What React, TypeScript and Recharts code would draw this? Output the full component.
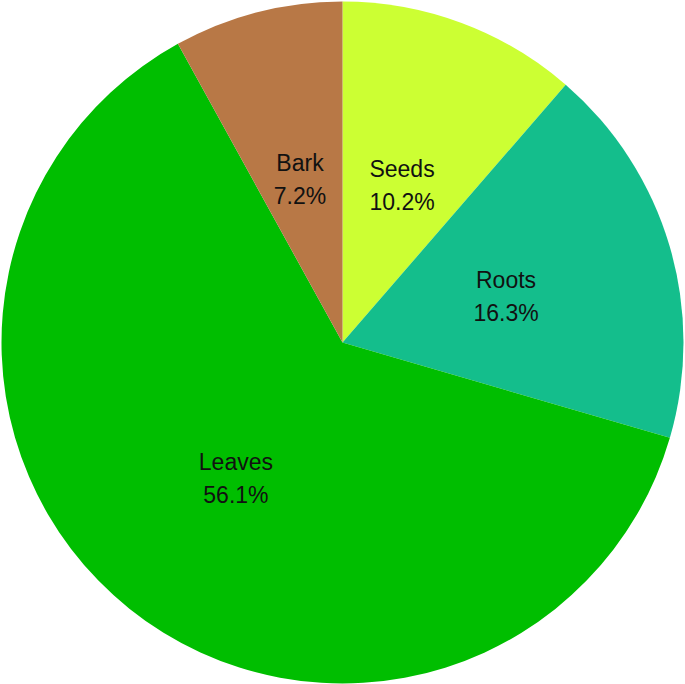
import React from "react";
import { PieChart, Pie, Cell } from "recharts";

const categories = ["Seeds", "Roots", "Leaves", "Bark"];
const values = [10.2, 16.3, 56.1, 7.2];
const colors = ["#CCFF33", "#14BE8C", "#00BE00", "#B87846"];

const data = categories.map((name, i) => ({ name, value: values[i] }));

const RADIAN = Math.PI / 180;

const renderLabel = (props: any) => {
  const { cx, cy, midAngle, outerRadius, index } = props;
  const r = outerRadius * 0.5;
  const x = cx + r * Math.cos(-midAngle * RADIAN);
  const y = cy + r * Math.sin(-midAngle * RADIAN);
  return (
    <text
      x={x}
      y={y}
      textAnchor="middle"
      fill="#111"
      style={{ fontFamily: "'Liberation Sans', Arial, sans-serif", fontSize: "23px" }}
    >
      <tspan x={x} dy={-14} dominantBaseline="central">
        {categories[index]}
      </tspan>
      <tspan x={x} dy={33} dominantBaseline="central">
        {values[index].toFixed(1) + "%"}
      </tspan>
    </text>
  );
};

export default function App() {
  return (
    <div style={{ position: "absolute", left: 0, top: 0, width: 685, height: 684, background: "#fff" }}>
      <PieChart width={685} height={684} margin={{ top: 0, right: 0, bottom: 0, left: 0 }}>
        <Pie
          data={data}
          dataKey="value"
          nameKey="name"
          cx={342.5}
          cy={342.5}
          outerRadius={341}
          startAngle={90}
          endAngle={-270}
          stroke="none"
          label={renderLabel}
          labelLine={false}
          isAnimationActive={false}
        >
          {data.map((d, i) => (
            <Cell key={d.name} fill={colors[i]} />
          ))}
        </Pie>
      </PieChart>
    </div>
  );
}
